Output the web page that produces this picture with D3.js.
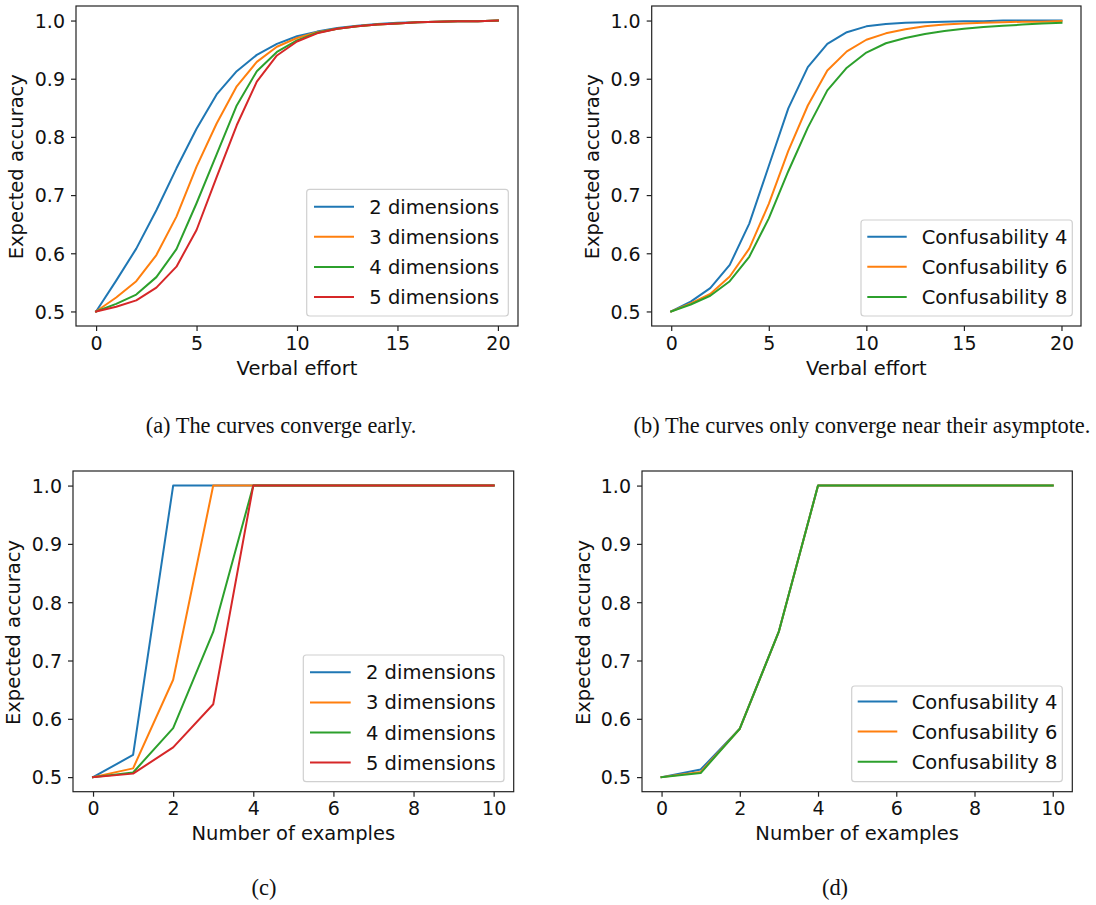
<!DOCTYPE html>
<html><head><meta charset="utf-8">
<script src="https://cdn.jsdelivr.net/npm/d3@7"></script>
<style>
html,body{margin:0;padding:0;background:#fff;}
svg{display:block;}
.tick text{font-family:"DejaVu Sans",sans-serif;}
</style></head>
<body>
<svg id="chart" width="1096" height="905"></svg>
<script>
// ---------- data ----------
const effortX = d3.range(0, 21);
const examplesX = d3.range(0, 11);

const dimLabels = ["2 dimensions", "3 dimensions", "4 dimensions", "5 dimensions"];
const confLabels = ["Confusability 4", "Confusability 6", "Confusability 8"];

// (a) verbal effort vs dimensions
const effortDim2 = [0.500,0.553,0.608,0.674,0.746,0.814,0.873,0.913,0.941,0.960,0.973,0.981,0.987,0.991,0.994,0.996,0.997,0.998,0.999,0.999,1.000];
const effortDim3 = [0.500,0.524,0.552,0.597,0.663,0.749,0.823,0.887,0.929,0.955,0.970,0.980,0.986,0.990,0.993,0.995,0.997,0.998,0.999,0.999,1.000];
const effortDim4 = [0.500,0.513,0.529,0.559,0.607,0.686,0.770,0.854,0.913,0.946,0.966,0.979,0.986,0.990,0.993,0.995,0.997,0.998,0.999,0.999,1.000];
const effortDim5 = [0.500,0.508,0.519,0.541,0.577,0.640,0.731,0.820,0.895,0.940,0.964,0.978,0.986,0.990,0.993,0.995,0.997,0.998,0.999,0.999,1.000];

// (b) verbal effort vs confusability
const effortConf4 = [0.500,0.517,0.540,0.580,0.651,0.750,0.849,0.920,0.960,0.980,0.990,0.994,0.996,0.997,0.998,0.999,0.999,1.000,1.000,1.000,1.000];
const effortConf6 = [0.500,0.514,0.530,0.560,0.608,0.685,0.776,0.854,0.914,0.947,0.967,0.978,0.985,0.990,0.993,0.995,0.996,0.997,0.998,0.998,0.999];
const effortConf8 = [0.500,0.512,0.527,0.552,0.594,0.660,0.741,0.816,0.880,0.919,0.945,0.961,0.970,0.977,0.982,0.986,0.989,0.991,0.993,0.995,0.996];

// (c) number of examples vs dimensions
const exDim2 = [0.500,0.538,1.000,1.000,1.000,1.000,1.000,1.000,1.000,1.000,1.000];
const exDim3 = [0.500,0.515,0.667,1.000,1.000,1.000,1.000,1.000,1.000,1.000,1.000];
const exDim4 = [0.500,0.508,0.584,0.749,1.000,1.000,1.000,1.000,1.000,1.000,1.000];
const exDim5 = [0.500,0.506,0.551,0.625,1.000,1.000,1.000,1.000,1.000,1.000,1.000];

// (d) number of examples vs confusability
const exConf4 = [0.500,0.513,0.583,0.750,1.000,1.000,1.000,1.000,1.000,1.000,1.000];
const exConf6 = [0.500,0.509,0.583,0.750,1.000,1.000,1.000,1.000,1.000,1.000,1.000];
const exConf8 = [0.500,0.507,0.583,0.750,1.000,1.000,1.000,1.000,1.000,1.000,1.000];

const yTicks = [0.5, 0.6, 0.7, 0.8, 0.9, 1.0];
const effortTicks = [0, 5, 10, 15, 20];
const examplesTicks = [0, 2, 4, 6, 8, 10];

const captions = ["(a) The curves converge early.", "(b) The curves only converge near their asymptote.", "(c)", "(d)"];

// ---------- layout ----------
const colors = ["#1f77b4", "#ff7f0e", "#2ca02c", "#d62728"];
const FONT = "DejaVu Sans, sans-serif";
const FS = 19.5;
const TFS = 19;

const panels = [
  {box:[76,6,518,326], xd:[-1,21], xs:effortX, xt:effortTicks, xlabel:"Verbal effort",
   series:[effortDim2,effortDim3,effortDim4,effortDim5], labels:dimLabels,
   leg:{x:306.7,y:189.3,w:201.6,h:126.7,row0:206.7,lx:314,lw:40,tx:369.3},
   ylab:{x:23,y:166.7}, xlabY:375, xtickY:349.5,
   cap:{x:281,y:433}},
  {box:[651.7,6,1081,326], xd:[-1,21], xs:effortX, xt:effortTicks, xlabel:"Verbal effort",
   series:[effortConf4,effortConf6,effortConf8], labels:confLabels,
   leg:{x:861,y:220,w:211.3,h:96,row0:236.7,lx:867.3,lw:39.4,tx:921.7},
   ylab:{x:599,y:166.7}, xlabY:375, xtickY:349.5,
   cap:{x:862,y:433}},
  {box:[73,471,513.7,791.7], xd:[-0.5,10.5], xs:examplesX, xt:examplesTicks, xlabel:"Number of examples",
   series:[exDim2,exDim3,exDim4,exDim5], labels:dimLabels,
   leg:{x:303.3,y:655,w:200.7,h:126.7,row0:672.3,lx:310,lw:40.7,tx:366},
   ylab:{x:20,y:632.5}, xlabY:840, xtickY:815,
   cap:{x:264,y:895}},
  {box:[642,471,1072.3,791.7], xd:[-0.5,10.5], xs:examplesX, xt:examplesTicks, xlabel:"Number of examples",
   series:[exConf4,exConf6,exConf8], labels:confLabels,
   leg:{x:851.7,y:686,w:210.6,h:95.7,row0:701.5,lx:857.7,lw:39.6,tx:911.7},
   ylab:{x:590,y:632.5}, xlabY:840, xtickY:815,
   cap:{x:835,y:895}}
];

const svg = d3.select("#chart");

panels.forEach((p, pi) => {
  const [x0,y0,x1,y1] = p.box;
  const x = d3.scaleLinear().domain(p.xd).range([x0,x1]);
  const y = d3.scaleLinear().domain([0.475,1.025]).range([y1,y0]);
  const g = svg.append("g");

  // lines
  const line = d3.line().x((d,i)=>x(p.xs[i])).y(d=>y(d));
  p.series.forEach((s, si) => {
    g.append("path").datum(s).attr("d", line)
      .attr("fill","none").attr("stroke", colors[si])
      .attr("stroke-width", 2).attr("stroke-linejoin","round").attr("stroke-linecap","square");
  });

  // frame
  g.append("rect").attr("x",x0).attr("y",y0).attr("width",x1-x0).attr("height",y1-y0)
    .attr("fill","none").attr("stroke","#222").attr("stroke-width",1.2);

  // x axis
  const xa = g.append("g").attr("transform",`translate(0,${y1})`)
    .call(d3.axisBottom(x).tickValues(p.xt).tickSize(5).tickPadding(0).tickFormat(d3.format("d")));
  xa.select(".domain").remove();
  xa.selectAll(".tick line").attr("stroke","#222").attr("stroke-width",1.2);
  xa.selectAll(".tick text").attr("font-size",TFS).attr("fill","#111")
    .attr("y", p.xtickY - y1).attr("dy",null);

  // y axis
  const ya = g.append("g").attr("transform",`translate(${x0},0)`)
    .call(d3.axisLeft(y).tickValues(yTicks).tickSize(5).tickPadding(6).tickFormat(d3.format(".1f")));
  ya.select(".domain").remove();
  ya.selectAll(".tick line").attr("stroke","#222").attr("stroke-width",1.2);
  ya.selectAll(".tick text").attr("font-size",TFS).attr("fill","#111").attr("dy","0.36em");

  // axis labels
  g.append("text").attr("x",(x0+x1)/2).attr("y",p.xlabY).attr("text-anchor","middle")
    .attr("font-family",FONT).attr("font-size",FS).attr("fill","#111").text(p.xlabel);
  g.append("text").attr("transform",`translate(${p.ylab.x},${p.ylab.y}) rotate(-90)`)
    .attr("text-anchor","middle").attr("font-family",FONT).attr("font-size",FS).attr("fill","#111")
    .text("Expected accuracy");

  // legend
  const L = p.leg;
  g.append("rect").attr("x",L.x).attr("y",L.y).attr("width",L.w).attr("height",L.h)
    .attr("rx",3).attr("ry",3).attr("fill","#fff").attr("fill-opacity",0.8)
    .attr("stroke","#d0d0d0").attr("stroke-width",1.2);
  p.labels.forEach((lab, li) => {
    const ry = L.row0 + li*30.1;
    g.append("line").attr("x1",L.lx).attr("x2",L.lx+L.lw).attr("y1",ry).attr("y2",ry)
      .attr("stroke",colors[li]).attr("stroke-width",2);
    g.append("text").attr("x",L.tx).attr("y",ry).attr("dy","0.36em")
      .attr("font-family",FONT).attr("font-size",FS).attr("fill","#111").text(lab);
  });

  // caption
  svg.append("text").attr("x",p.cap.x).attr("y",p.cap.y).attr("text-anchor","middle")
    .attr("font-family","Liberation Serif, Times New Roman, serif").attr("font-size",22.4)
    .attr("fill","#111").text(captions[pi]);
});
</script>
</body></html>
